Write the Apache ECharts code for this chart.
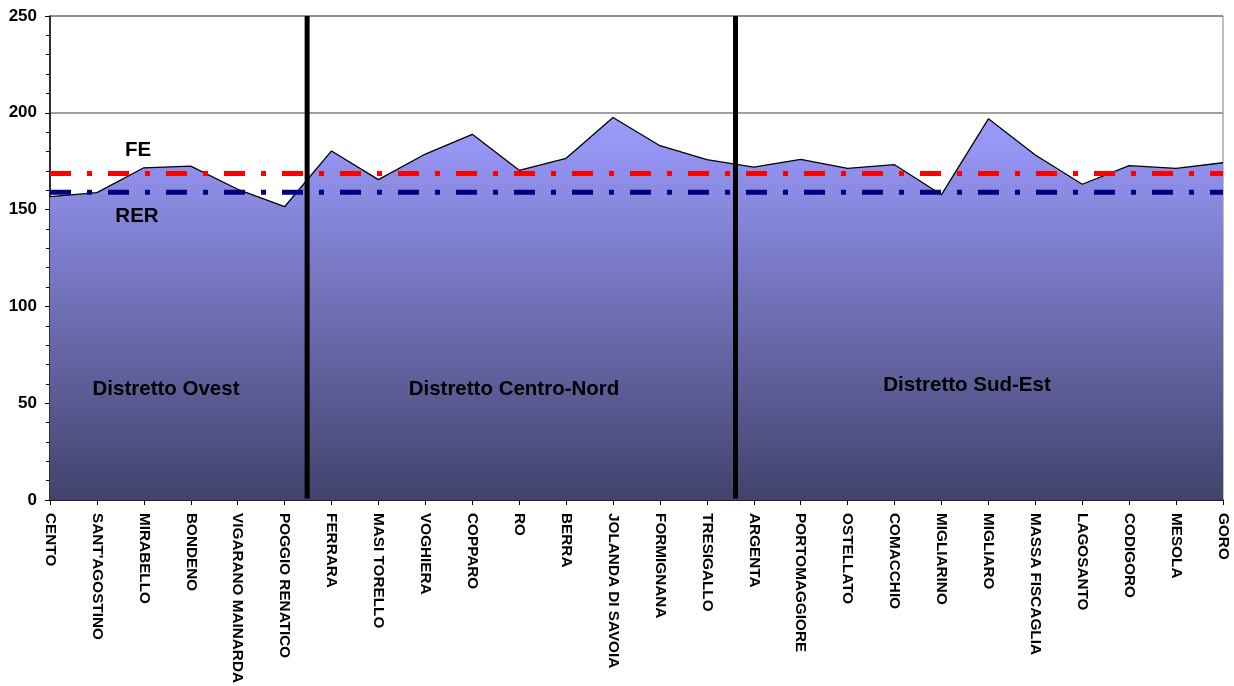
<!DOCTYPE html>
<html>
<head>
<meta charset="utf-8">
<script src="https://cdn.jsdelivr.net/npm/echarts@6/dist/echarts.min.js"></script>
<style>
html,body{margin:0;padding:0;background:#fff;}
#chart{width:1234px;height:686px;}
</style>
</head>
<body>
<div id="chart"></div>
<script>
const categories = ["CENTO","SANT'AGOSTINO","MIRABELLO","BONDENO","VIGARANO MAINARDA","POGGIO RENATICO","FERRARA","MASI TORELLO","VOGHIERA","COPPARO","RO","BERRA","JOLANDA DI SAVOIA","FORMIGNANA","TRESIGALLO","ARGENTA","PORTOMAGGIORE","OSTELLATO","COMACCHIO","MIGLIARINO","MIGLIARO","MASSA FISCAGLIA","LAGOSANTO","CODIGORO","MESOLA","GORO"];
const values = [156.7,158.8,171.6,172.5,160.5,151.5,180.3,165.5,178.7,188.9,170.3,176.5,197.6,183.0,175.8,171.9,176.0,171.3,173.2,157.7,196.9,178.2,163.1,172.7,171.3,174.2];
const feValue = 168.6;
const rerValue = 159.0;
const yTicks = [0,50,100,150,200,250];
const districtNames = ["Distretto Ovest","Distretto Centro-Nord","Distretto Sud-Est"];
const refNames = ["FE","RER"];
const dividerPositions = [5.48, 14.61];

const chart = echarts.init(document.getElementById('chart'), null, {renderer:'canvas'});
const FONT = 'Liberation Sans, Arial, sans-serif';

const dividerSeries = dividerPositions.map(p => ({
  type:'line', xAxisIndex:1, yAxisIndex:0, symbol:'none', silent:true, z:5,
  lineStyle:{color:'#000', width:5},
  data:[[p,0.8],[p,250]]
}));

function txt(s, x, y, size){
  return {type:'text', x:x, y:y, z:10, style:{text:s, font:'bold '+size+'px '+FONT, fill:'#000', align:'center', verticalAlign:'middle'}};
}

const option = {
  animation:false,
  backgroundColor:'#fff',
  grid:{left:50, right:11, top:16, bottom:185, show:true, borderColor:'#808080', borderWidth:1, backgroundColor:'#fff'},
  xAxis:[{
    type:'category', data:categories, boundaryGap:false,
    axisLine:{lineStyle:{color:'#000', width:1.5}},
    axisTick:{show:true, length:5, lineStyle:{color:'#000'}},
    axisLabel:{rotate:-90, margin:13, fontSize:15.3, fontWeight:'bold', color:'#000', fontFamily:FONT, interval:0},
    splitLine:{show:false}
  },{
    type:'value', min:0, max:25, show:false
  }],
  yAxis:[{
    type:'value', min:yTicks[0], max:yTicks[yTicks.length-1], interval:50,
    axisLine:{show:true, lineStyle:{color:'#000', width:1.5}},
    axisTick:{show:true, length:5, lineStyle:{color:'#000'}},
    minorTick:{show:true, splitNumber:5, length:4, lineStyle:{color:'#000'}},
    axisLabel:{margin:13, fontSize:17, fontWeight:'bold', color:'#000', fontFamily:FONT},
    splitLine:{show:true, lineStyle:{color:'#808080', width:1.5}}
  }],
  series:[
    {
      type:'line', data:values, symbol:'none', z:2,
      lineStyle:{color:'#000', width:1.3},
      areaStyle:{opacity:1, color:new echarts.graphic.LinearGradient(0,0,0,1,[
        {offset:0, color:'#9c9cff'},
        {offset:1, color:'#42426c'}
      ])}
    },
    {
      type:'line', data:categories.map(()=>feValue), symbol:'none', z:3,
      lineStyle:{color:'#ff0000', width:5, type:[21,16,5,16]}
    },
    {
      type:'line', data:categories.map(()=>rerValue), symbol:'none', z:3,
      lineStyle:{color:'#000080', width:5, type:[21,16,5,16]}
    },
    ...dividerSeries
  ],
  graphic:[
    txt(districtNames[0], 166, 389, 20.5),
    txt(districtNames[1], 514, 389, 20.5),
    txt(districtNames[2], 967, 385, 20.5),
    txt(refNames[0], 138, 150, 20.5),
    txt(refNames[1], 137, 216, 20.5)
  ]
};
chart.setOption(option);
</script>
</body>
</html>
